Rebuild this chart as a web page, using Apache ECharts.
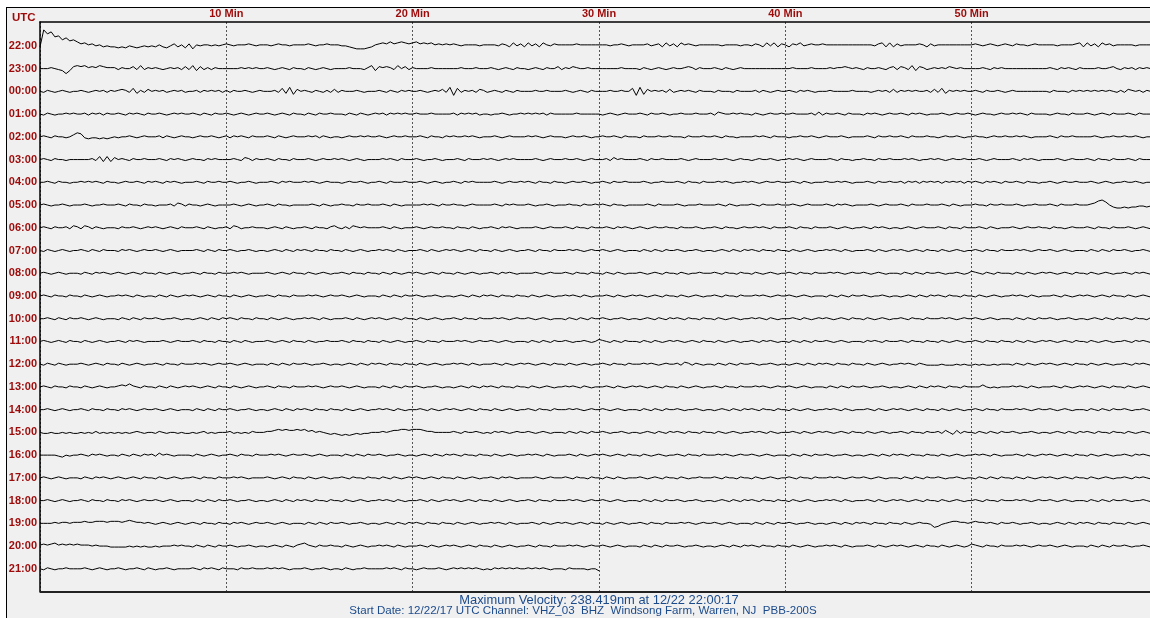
<!DOCTYPE html>
<html>
<head>
<meta charset="utf-8">
<script src="https://cdn.jsdelivr.net/npm/echarts@6/dist/echarts.min.js"></script>
<style>
html,body{margin:0;padding:0;background:#fff;overflow:hidden;}
#frame{position:absolute;left:6px;top:7px;width:1160px;height:630px;border-left:1px solid #000;border-top:1px solid #000;background:#f0f0f0;}
#chart{position:absolute;left:0;top:0;width:1150px;height:618px;}
</style>
</head>
<body>
<div id="frame"></div>
<div id="chart"></div>
<script>
// ---------- DATA ----------
const hourLabels = ['22:00','23:00','00:00','01:00','02:00','03:00','04:00','05:00','06:00','07:00','08:00','09:00',
  '10:00','11:00','12:00','13:00','14:00','15:00','16:00','17:00','18:00','19:00','20:00','21:00'];
const minuteTicks = [10,20,30,40,50];
const sampleStepMin = 0.2; // minutes between samples
// Each trace: one character per sample, offset = charCode - 'm' (approx. 1 px units, up positive)
const trace_22 = "l}y{vwsurs qopnomnlml lklkmlklml mlnlkmolnk ojnmnnmnmn onmnnnonmn nnmnonnmnn nnonmnnonn nmmlkjjjkl nopoqopqpo pqopopnono nonmnnnnmn nnnmonlpmo lpmolpnmon nnnnonnnnn nnnmnnonmn nnnomnolpm olpnonmnnn nnnmnnnnmn nmonlpmplo nlonpmnonn onnnnnnnnn nnnnmoplpl omnnnnonlo mnnnnnnnnn nonmnonmno nmonnmnonn nnnmnnnnop lpmolpnomn nnnnmnnnnn";
const trace_23 = "mmmnmlkhko popnonponn nlnmmolpln mnmlmnmnlo lpkolnlnmm mmmmnmnmnm mnmlmnmlnm mlnmlmnmlm mmmnmmmlnp kononlpmol nmmmmnmmmm mmmnmmmnmm mnmlmnmlnm mlmnmlnmmo lnmonmmnmm mmmmmmnmmm mlnmlmnmlm nmmnonlnmm mnmlnmlmnm mmmmmmmmmm mmnmmmmnmm mmnmnnonmn mlnmmnmlno lonlpkonlm nmnmonmnmm mmmnmlnmnm mmmmmmmmmm mnmlnmnmln mmmmnmmnom lnmnlnmnml";
const trace_00 = "mlnmlmnmlm mnmlmnmnln mnonlpknlo mnmnlmnmnl mmnlnmnmnl nlnmmnmlmn mmmnlpkqjo mnmlnmlnlo lnmmmnmlmm mnmlnmlnmn mmnmlmnmol qiplnmnlon lmnmlnmlnm mmmnmmnmmm mnmlmnmlnm mmmnmmnmmp iqjomnmnlo lmnmnmlnmm mlnmmmlnmm mmnlnmlmnm mnmlnmnmlm mmnmmmmmnm mmmlmnmnlo lnmnmnmmnl olpknmnmnm mnmlnmmnml mnmmmmmmmm mlnmmmlnmn mnmnmnmnml nlonmnlnmn";
const trace_01 = "mlnmlmmnmn mmnlnmnlnm mnmlnmnmln mmnmlmnmnm mnmlnmlnmm nmlmnmlmnm mnmlmnmlnm mlnmlnmmnm mmlnmlnmlm nmnlnmnmnm mnmmmnmmmm mnlnmnmnlm mlmmnmlmmn mnmnmnlnmm mmmmnmmmmm mlmnmlmnmm mnmlnmmnml mmnmmmnmmm nlonmmnmnm mlnmlmnmmn mmnmmmmnlo lnmmnmlnmm mlnmnmlmnm mnmlnmnmlm mmnmlmnmmn mlmnmmlmnm mnmnmlnmmm mlmnmmlnmm mnmlmnmlnm mmnmlnmmmm";
const trace_02 = "mnmlnmmlmo qplkllklkl mlmmnmlmnm mmnlnmlmnm mlmnmmnmlm nlnmnmlnmm mnmlnmlmnm mmnmnlnmlm mlmnmmnmnm mnmlmnmmnm mmnmlnmmln mnmmnmnmlm mmnmlmnmmm mnmnmlmnmm mlmnmmnmlm mnmmnmlnmm mlnmmmnmmn mmmlnmmmnm mnmlnmmlmm mmnmnmlnmm mlmmnmmnml mnmmmnmlmm mmnmlnmmnm mnmlnmmmnm mlmnmmnmlm mnmmlmnmmn mmnmnmlmmm mnmlnmmnmm mmmnmlmmnm mnmmnmlmmm";
const trace_03 = "mnmlnmmlmm mmmmnlpkpk omnmlnmmnm mmnmlnmnml mnmmlnmnmm mmnmlonlnm mnmlnmmlnm mmnmlmnmmn mnmlmnmlmm mmnmnmlnmm mnmlmmnmlm mmnmlnmmmn mnmlmnmnmm mmmnmlmnmm mnmmnmlmnm mmnlomnmmm mnmlnmmnmm mmnmlmnmmm mnmmnmlmnm mlmnmmnmlm mnmnmlmnmm mmnmlnmmlm mnmmlnmmnm mmnmnmlmmn mnmlmnmmnm mmnmlmnmmm mnmlnmnmlm mmmnmlmnmm mnmlnmmlnm mmnmlnmmmm";
const trace_04 = "mmnmlnmmlm mnmnmnmlnm mlmnmmnmln mnmlnmnmlm mmnmlnmmnm mnmlmmnmlm mmnmlnmnmm mnmnmlmnmm mlmnmmnmlm mnmlnmmmnm mmnmlmnmlm mnmlnmnmmm mmnmlmnmmn mnmlnmmlnm mlmnmmnmlm mnmlnmmnmm mmnmlmmnmm mnmlnmmlnm mmnmnmlmmn mnmlmnmmnm mmnmlnmlmm mnmmnmnmlm mmnmlnmmnm mnlnmnlnmn mnlnmnmnln mnmlnmnmln mmnmlnmmlm mnmlmnmmnm mmnmlmnmlm mnmmnmlmmn";
const trace_05 = "mnmlmmnmlm mmnmlmmnmm mnmlnmmlnm mlmmmnlonl nmmlmnmlmm mmnmlmnmlm mnmlnmmlmm mmmnmlnmlm mnmmlnmmnm mmnmlnmlmm mmmnmnmlnm mnmmlmnmmm mmnmlnmnmm mnmlmmnmlm mmnmmlnmmn mnmlnmmlmm mmmnmlnmmm mnmlmmmnmm mmnmlnmlmm mnmlnmmmnm mmnmlmnmmm mnmlnmnmlm mmmnmlmnmm mnmlnmmmnm mmnmlnmlmm mnmmlnmmnm mmnmlmmnmm mnmlnmmmnm mmnoqrpmkj jkjkkllkll";
const trace_06 = "mnmlnmmnlo nlonlnmlmm mlnmmnmlmn mnmlmnmlnm mmnmlnmlmm nlonlmmnmm mlmnmlnmlm mnmlnmmlno mlnlonmnmm mmnmlnmlmm mnmlmnmmnm mlnmmlnmlm mnmlnmnmlm mmmnmlmnmm mnmlnmmlnm mmnmlnmnml mnmlmnmmnm mlnmmmnmlm mnmlnmmlmn mmnmnmlnmm mnmlnmmlnm mmnmlmnmlm mnmlnmnmlm mlmnmlmnmm mnmlnmmlnm mmnmlnmlmm mnmlmnmmnm mlnmmlmnmm mnmlnmmlnm mmnmlmnmlm";
const trace_07 = "mlnmlmnmlm mnmlnmlnmm mlnmnmlmnm mnmlmnmlmm mmnmlnmlnm mnmlmmnmlm mlmnmlnmln mnmlnmmlnm mlnmlmnmlm mnmnmlnmlm mmnmlnmlmn mnmlmnmlnm mlnmlmnmlm mnmlnmmlnm mmnmnmlmnm mnmlmnmlmm mlnmlnmlnm mnmlmmnmlm mlmnmlnmln mnmlnmmlnm mlnmlmnmlm mnmnmlnmlm mmnmlnmlmn mnmlmnmlnm mlnmlmnmlm mnmlnmmlnm mmnmnmlmnm mnmlmnmlmm mlnmlnmlnm mnmlmmnmlm";
const trace_08 = "mnmlmnmlmm mlnmlnmnml mnmlmnmlnm mlnmlmnmlm mnmlnmmlnm mmnmnmlmmm mnmlmnmlnm mlnmlmnmlm mnmlnmmlnm mlnmlnmlmn mnmlmnmlnm mlnmlmnmlm mnmlnmnmlm mmmnmlmnmm mnmlnmmlnm mlnmlnmlmm mnmlmnmlnm mlnmlmmnmm mnmlnmmlnm mlnmlmnmlm mnmlnmmlnm mmnmnmlmnm mnmlmnmlmm mlnmlnmlnm mnmlmmnmlm onmlnmlnmm mlnmlnmlmn mnmlmnmlnm mlnmlmnmlm mnmlnmnmlm";
const trace_09 = "mnmlnmmlnm mlnmlmnmlm mnmnmlnmlm mlnmlnmlmn mnmlmnmlnm mlnmlmnmlm mnmlnmmlnm mmnmnmlmnm mnmlmnmlmm mlnmlnmlnm mnmlmmnmlm mlmnmlnmln mnmlnmmlnm mlnmlmnmlm mnmnmlnmlm mmnmlnmlmn mnmlmnmlnm mlnmlmnmlm mnmlnmmlnm mmnmnmlmnm mnmlmnmlmm mlnmlnmlnm mnmlmmnmlm mlmnmlnmln mnmlnmmlnm mlnmlmnmlm mnmnmlnmlm mmnmlnmlmn mnmlmnmlnm mlnmlmnmlm";
const trace_10 = "mmnmlnmlnm mnmlmnmlmm mlnmlnmlnm mnmlmmnmlm mlmnmlnmln mnmlnmmlnm mlnmlmnmlm mnmnmlnmlm mmnmlnmlmn mnmlmnmlnm mlnmlmnmlm mnmlnmmlnm mmnmnmlmnm mnmlmnmlmm mlnmlnmlnm mnmlmmnmlm mlmnmlnmln mnmlnmmlnm mlnmlmnmlm mnmnmlnmlm mmnmlnmlmn mnmlmnmlnm mlnmlmnmlm mnmlnmmlnm mmnmnmlmnm mnmlmnmlmm mlnmlnmlnm mnmlmmnmlm mlmnmlnmln mnmlnmmlnm";
const trace_11 = "mnmlmnmlnm mlnmlmnmlm mnmlnmnmlm mmmnmlmnmm mnmlnmmlnm mlnmlnmlmm mnmlmnmlnm mlnmlmmnmm mnmlnmmlnm mlnmlmnmlm mnmlnmmlnm mmnmnmlmnm mnmlmnmlmm mlnmlnmlnm mnmlmmnmlm onmlnmlnmm mlnmlnmlmn mnmlmnmlnm mlnmlmnmlm mnmlnmnmlm mlnmlnmlnm mnmlmnmlmm mlnmnmlnmm mnmlnmmlnm mlnmlmnmlm mnmlnmmlnm mlnmlnmlmn mnmlmnmlnm mlnmlmnmlm mnmlnmnmlm";
const trace_12 = "mlnmlnmlmm mnmlmnmlnm mlnmlmnmlm mnmlnmmlnm mmnmnmlmnm mnmlmnmlmm mlnmlnmlnm mnmlmmnmlm mlmnmlnmln mnmlnmmlnm mlnmlmnmlm mnmnmlnmlm mmnmlnmlmn mnmlmnmlnm mlnmlmnmlm mnmlnmmlnm mmnmnmlmnm mnlonlnmlm mlnmlnmlnm mnmlmmnmlm mlmnmlnmln mnmlnmmlnm mlnmlmnmlm mnmnmlnmll llmlllmlml lmlmllmlmm mlnmlnmlmn mnmlmnmlnm mlnmlmnmlm mnmlnmnmlm";
const trace_13 = "mnmlnmmlnm mlnmlmnmlm mnonpnmlnm mlnmlnmlmn mnmlmnmlnm mlnmlmnmlm mnmlnmmlnm mmnmnmlmnm mnmlmnmlmm mlnmlnmlnm mnmlmmnmlm mlmnmlnmln mnmlnmmlnm mlnmlmnmlm mnmnmlnmlm mmnmlnmlmn mnmlmnmlnm mlnmlmnmlm mnmlnmmlnm mmnmnmlmnm mnmlmnmlmm mlnmlnmlnm mnmlmmnmlm mlmnmlnmln mnmlnmmlnm mmmomlmlmm mnmnmlnmlm mmnmlnmlmn mnmlmnmlnm mlnmlmnmlm";
const trace_14 = "mmnmlmnmlm mnmlnmmlnm mlnmnmlmnm mnmlmnmlmm mlnmlnmlnm mnmlmmnmlm mlmnmlnmln mnmlnmmlnm mlnmlmnmlm mnmnmlnmlm mmnmlnmlmn mnmlmnmlnm mlnmlmnmlm mnmlnmmlnm mmnmnmlmnm mnmlmnmlmm mlnmlnmlnm mnmlmmnmlm mlmnmlnmln mnmlnmmlnm mlnmlmnmlm mnmnmlnmlm mmnmlnmlmn mnmlmnmlnm mlnmlmnmlm mnmlnmmlnm mmnmnmlmnm mnmlmnmlmm mlnmlnmlnm mnmlmmnmlm";
const trace_15 = "mllmllmlml lmlmlnlmlm lmlmlmnmlm mlnmlmmlml lmlmnlmlmm mnlmlmlnmm mnnopopoop opnomnmlkl kjkjklkllm mmnmnooppo ppponnmmmm mnmlnmmnml mlnmnmlmnm mnmlmnmlmm mlnmlnmlnm mnmlmmnmlm mlmnmlnmln mnmlnmmlnm mlnmlmnmlm mnmnmlnmlm mmnmlnmlmn mnmlmnmlnm mlnmlmnmlm mnmlnmmlnm mnlomkolnm mlnmlnmlnm mnmlmmnmlm mlmnmlnmln mnmlnmmlnm mlnmlmnmlm";
const trace_16 = "mmmmmlkmlm mnmlnmnmlm mlnmlnmlnm nlomnmlmmm mlnmlmnmlm mnmlnmmlnm mmnmnmlmnm mnmlmnmlmm mlnmlnmlnm mnmlmmnmlm mlmnmlnmln mnmlnmmlnm mlnmlmnmlm mnmnmlnmlm mmnmlnmlmn mnmlmnmlnm mlnmlmnmlm mnmlnmmlnm mmnmnmlmnm mnmlmnmlmm mlnmlnmlnm mnmlmmnmlm mlmnmlnmln mnmlnmmlnm mlnmlmnmlm mnmnmlnmlm mmnmlnmlmn mnmlmnmlnm mlnmlmnmlm mnmlnmnmlm";
const trace_17 = "mnmlmnmlmm mlnmlnmnml mnmlmnmlnm mlnmlmnmlm mnmlnmmlnm mmnmnmlmmm mnmlmnmlnm mlnmlmnmlm mnmlnmmlnm mlnmlnmlmn mnmlmnmlnm mlnmlmnmlm mnmlnmnmlm mmmnmlmnmm mnmlnmmlnm mlnmlnmlmm mnmlmnmlnm mlnmlmmnmm mnmlnmmlnm mlnmlmnmlm mnmlnmmlnm mmnmnmlmnm mnmlmnmlmm mlnmlnmlnm mnmlmmnmlm mlnmlnmlnm mlnmlnmlmn mnmlmnmlnm mlnmlmnmlm mnmlnmnmlm";
const trace_18 = "mmnmlmnmlm mnmlnmmlnm mlnmnmlmnm mnmlmnmlmm mlnmlnmlnm mnmlmmnmlm mlmnmlnmln mnmlnmmlnm mlnmlmnmlm mnmnmlnmlm mmnmlnmlmn mnmlmnmlnm mlnmlmnmlm mnmlnmmlnm mmnmnmlmnm mnmlmnmlmm mlnmlnmlnm mnmlmmnmlm mlmnmlnmln mnmlnmmlnm mlnmlmnmlm mnmnmlnmlm mmnmlnmlmn mnmlmnmlnm mlnmlmnmlm mnmlnmmlnm mmnmnmlmnm mnmlmnmlmm mlnmlnmlnm mnmlmmnmlm";
const trace_19 = "mmmmnmnnmn nnonnooono oonoponnmn mlmnmlmnml mnmlnmmlnm mlnmnmlmnm mnmlmnmlmm mlnmlnmlnm mnmlmmnmlm mlmnmlnmln mnmlnmmlnm mlnmlmnmlm mnmnmlnmlm mmnmlnmlmn mnmlmnmlnm mlnmlmnmlm mnmlnmmlnm mmnmnmlmnm mnmlmnmlmm mlnmlnmlnm mnmlmmnmlm mlmnmlnmln mnmlnmmlnm mlnmlmnmml ijlmnoonnm nonnmnmlnm mnmlmmnmlm mlmnmlnmln mnmlnmmlnm mlnmlmnmlm";
const trace_20 = "nonopnonon onnnmnmmml llllmlmlml lmlmmmnmnm mlnmlnmlnm mnmlmmnmlm mlmnmlnmln opnmlnmmnm mlnmlmnmlm mnmnmlnmlm mmnmlnmlmn mnmlmnmlnm mlnmlmnmlm mnmlnmmlnm mmnmnmlmnm mnmlmnmlmm mlnmlnmlnm mnmlmmnmlm mlmnmlnmln mnmlnmmlnm mlnmlmnmlm mnmnmlnmlm mmnmlnmlmn mnmlmnmlnm mlnmlmnmlm onmlnmmlnm mmnmnmlmnm mnmlmnmlmm mlnmlnmlnm mnmlmmnmlm";
const trace_21 = "mlnmlmmnmm mmnmlmnmlm mnmlmmnmln mlmmnmlmmm mnmlnmnmln mmmlnmmnmm mnmnmnmlmm mnmlmmnmlm mlnmlmmnmm mmmnmnmlnm mlmnmmmnml mnmnmnmnml mlnmnmnmnm mnmnmnmlmm mlnmmmmlmm k";
const traces = [trace_22, trace_23, trace_00, trace_01, trace_02, trace_03, trace_04, trace_05,
  trace_06, trace_07, trace_08, trace_09, trace_10, trace_11, trace_12, trace_13,
  trace_14, trace_15, trace_16, trace_17, trace_18, trace_19, trace_20, trace_21];

// ---------- BUILD ----------
const unit = 1 / 22.74; // one offset step in row units
const series = traces.map((t, row) => {
  const s = t.replace(/\s+/g, '');
  const data = [];
  for (let i = 0; i < s.length; i++) {
    const off = s.charCodeAt(i) - 109;
    data.push([i * sampleStepMin, row - off * unit]);
  }
  return {
    type: 'line', data, showSymbol: false, symbol: 'none', silent: true,
    lineStyle: { color: '#000', width: 1 }, z: 5, animation: false
  };
});

const labelRed = '#9c0a0a';
const chart = echarts.init(document.getElementById('chart'), null, { renderer: 'canvas' });
chart.setOption({
  backgroundColor: 'transparent',
  animation: false,
  grid: { left: 40, top: 22, right: -8, bottom: 26, outerBoundsMode: 'none', containLabel: false,
          show: true, backgroundColor: '#f0f0f0', borderWidth: 0 },
  xAxis: {
    type: 'value', position: 'top', min: 0, max: 60, interval: 10,
    axisLine: { show: true, onZero: false, lineStyle: { color: '#000', width: 1.5 } },
    axisTick: { show: false },
    axisLabel: {
      margin: 3, color: labelRed, fontFamily: 'Liberation Sans', fontWeight: 'bold', fontSize: 11,
      formatter: v => minuteTicks.includes(v) ? v + ' Min' : ''
    },
    splitLine: { show: true, lineStyle: { color: '#555', width: 1, type: [2, 2] } }
  },
  yAxis: {
    type: 'value', min: -1.05, max: 24.02, inverse: true,
    axisLine: { show: true, onZero: false, lineStyle: { color: '#000', width: 1.5 } },
    axisTick: { show: false }, splitLine: { show: false },
    axisLabel: {
      customValues: hourLabels.map((_, i) => i),
      margin: 3, color: labelRed, fontFamily: 'Liberation Sans', fontWeight: 'bold', fontSize: 11,
      formatter: v => hourLabels[Math.round(v)] || ''
    }
  },
  graphic: [
    { type: 'line', shape: { x1: 40, y1: 592, x2: 1150, y2: 592 }, style: { stroke: '#222', lineWidth: 2 }, z: 10 },
    { type: 'text', left: 12, top: 12, style: { text: 'UTC', fill: labelRed, font: 'bold 11.5px "Liberation Sans"' } },
    { type: 'text', x: 599, y: 600, style: { text: 'Maximum Velocity: 238.419nm at 12/22 22:00:17', fill: '#1c4b8c', font: '12.9px "Liberation Sans"', align: 'center', verticalAlign: 'middle' } },
    { type: 'text', x: 583, y: 611, style: { text: 'Start Date: 12/22/17 UTC Channel: VHZ_03  BHZ  Windsong Farm, Warren, NJ  PBB-200S', fill: '#1c4b8c', font: '11.55px "Liberation Sans"', align: 'center', verticalAlign: 'middle' } }
  ],
  series
});
</script>
</body>
</html>
